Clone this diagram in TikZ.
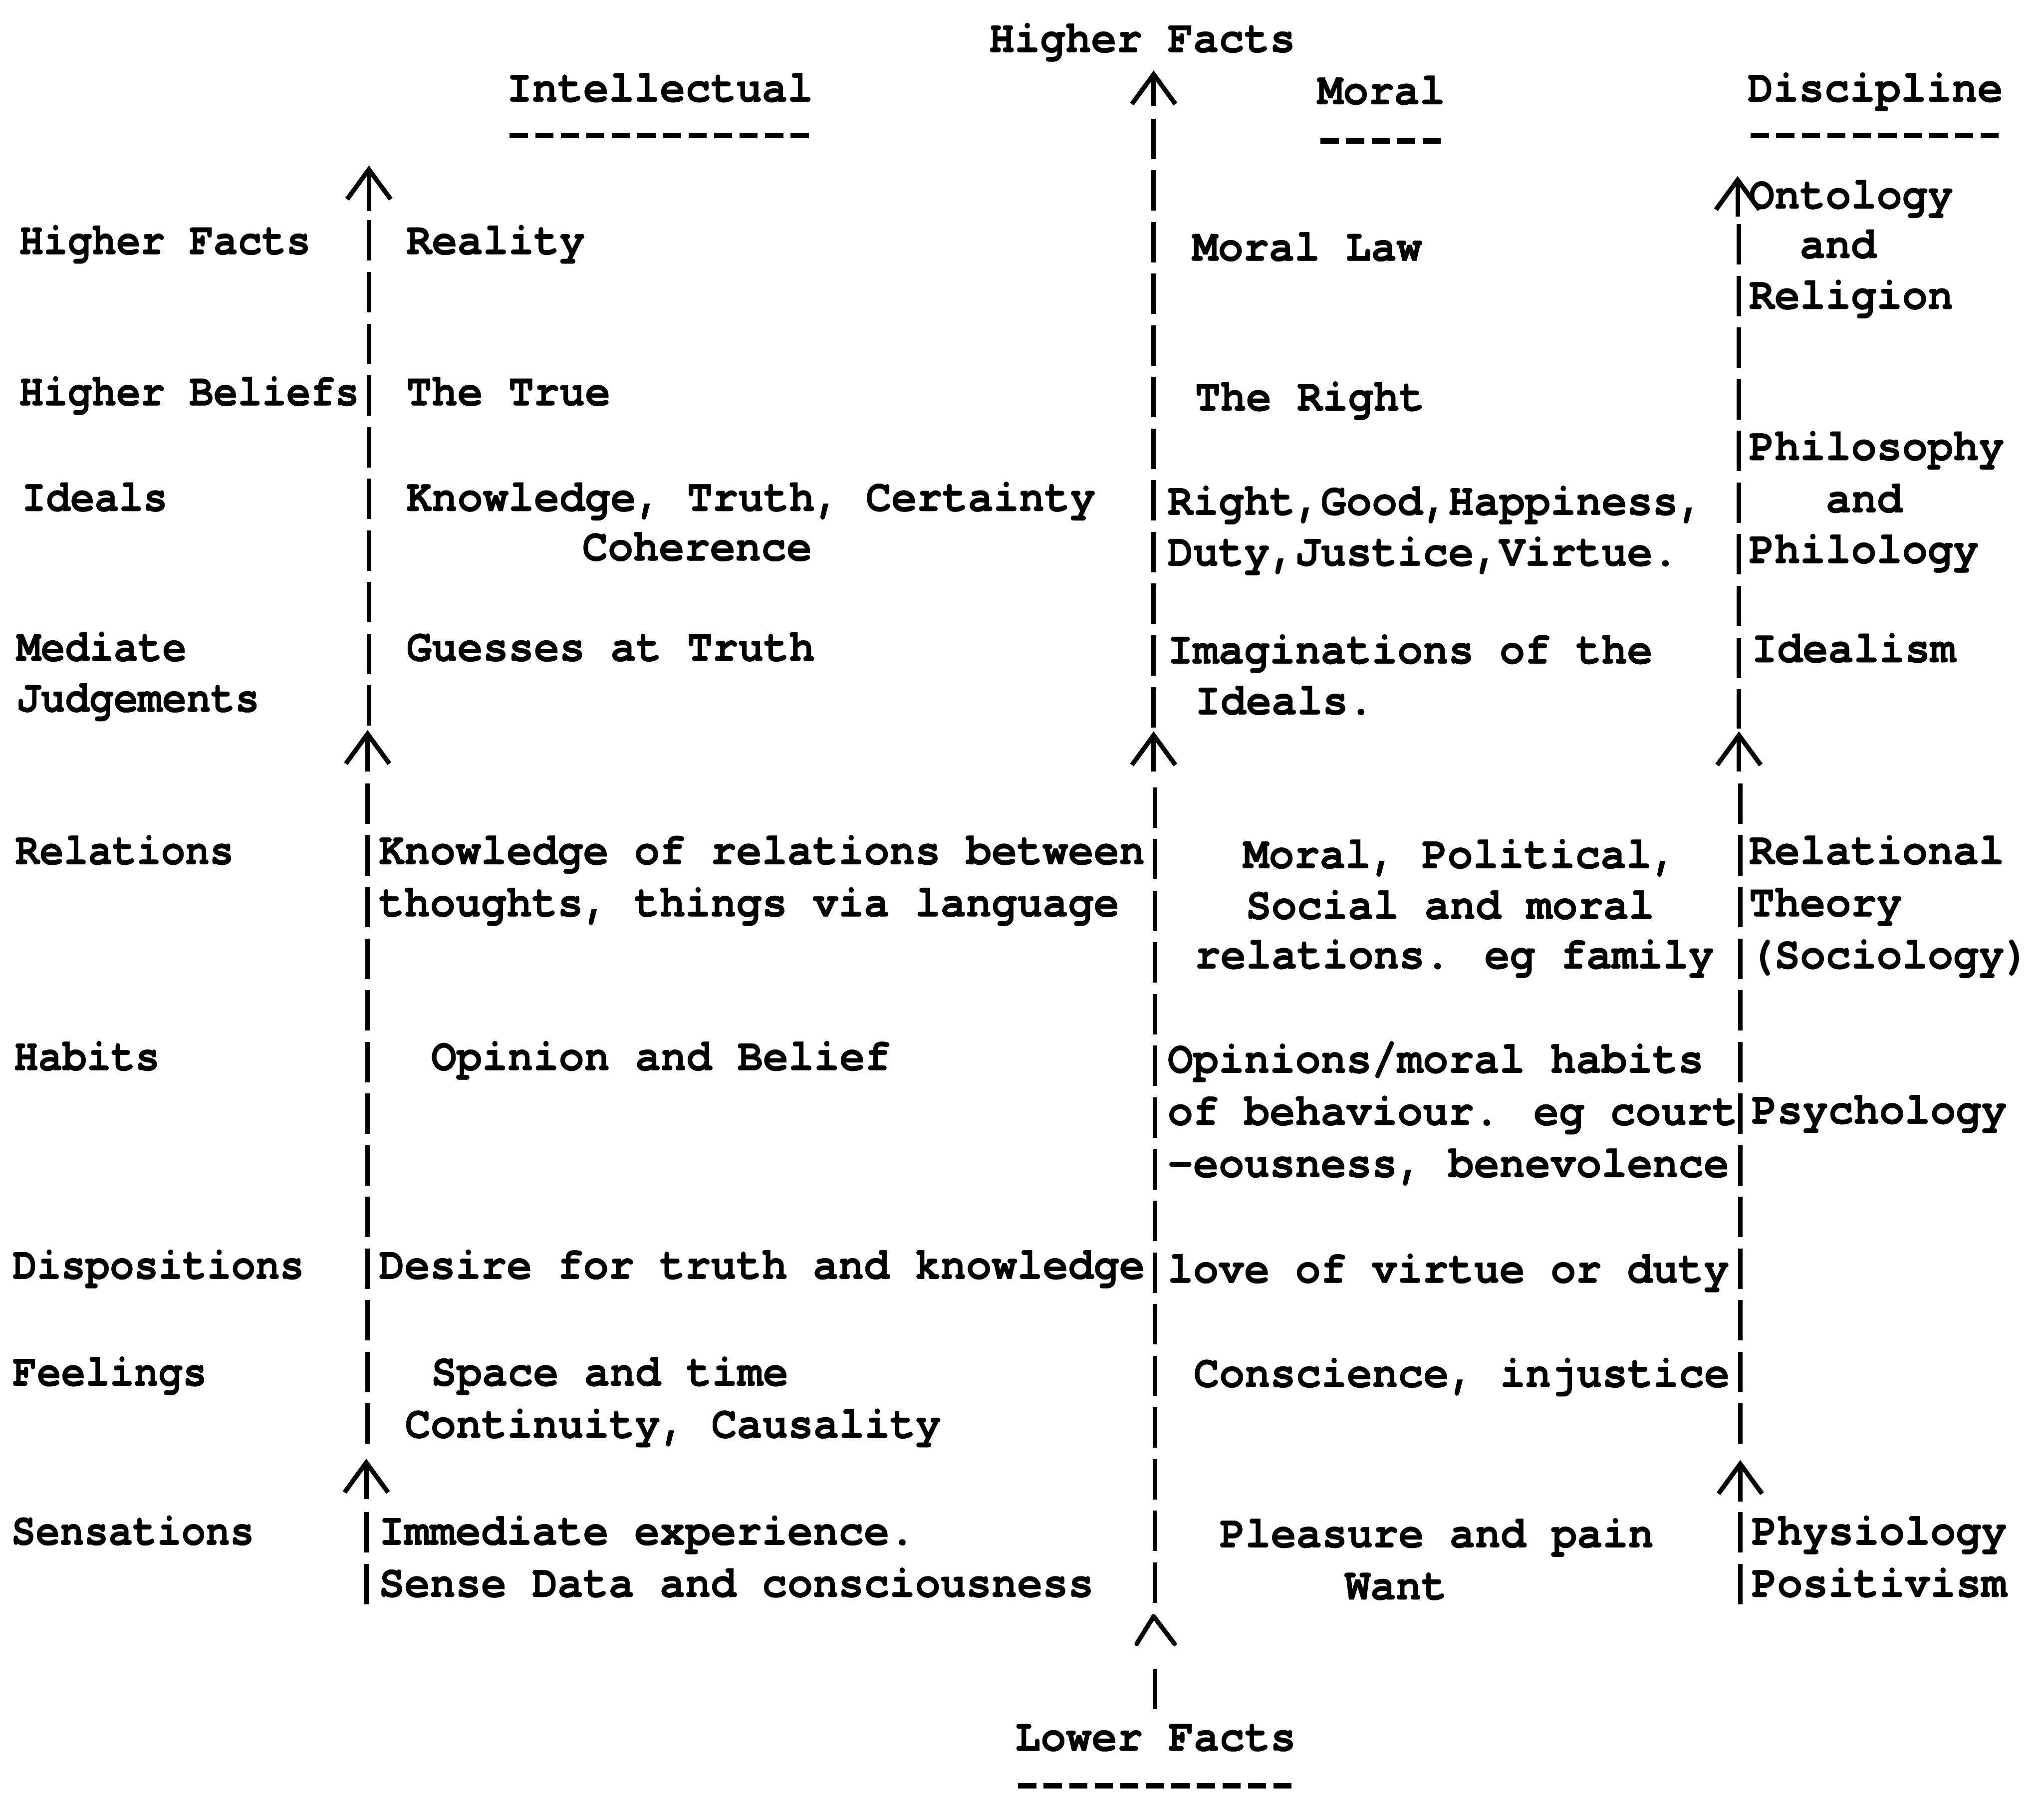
\documentclass[tikz,border=0pt]{standalone}
\usepackage{fontspec}
\newfontfamily\typer{texgyrecursor}[Extension=.otf, UprightFont=*-bold, FakeStretch=0.93, FakeBold=0.6]
\newfontfamily\typernarrow{texgyrecursor}[Extension=.otf, UprightFont=*-bold, FakeStretch=0.885, FakeBold=0.6]
\usetikzlibrary{arrows.meta, calc}

\begin{document}
\begin{tikzpicture}[x=0.01cm, y=-0.01cm,
  txt/.style={font=\typer\fontsize{9.98}{11}\selectfont, anchor=base west, inner sep=0pt},
  lbl/.style={txt, font=\typernarrow\fontsize{9.98}{11}\selectfont},
  rulebar/.style={line width=1pt, dash pattern=on 8.82pt off 2.45pt},
  uparrow/.style={line width=1pt, -{Straight Barb[length=6.5pt, width=9.5pt]}},
  uline/.style={line width=1.2pt, dash pattern=on 3.98pt off 1.59pt}]
  \useasboundingbox (0,0) rectangle (1568,1376);
  % Headings
  \node[txt] (topfacts) at (758,40) {Higher Facts};
  \node[txt] (intel) at (388,78) {Intellectual};
  \node[txt] (moral) at (1010,80) {Moral};
  \node[txt] (disc) at (1340,78) {Discipline};
  \node[txt] (lowfacts) at (778,1343) {Lower Facts};
  \draw[uline] ($(intel.base west)+(3,26)$) -- ($(intel.base east)+(0,26)$);
  \draw[uline] ($(moral.base west)+(3,28)$) -- ($(moral.base east)+(0,28)$);
  \draw[uline] ($(disc.base west)+(3,26)$) -- ($(disc.base east)+(0,26)$);
  \draw[uline] ($(lowfacts.base west)+(3,27)$) -- ($(lowfacts.base east)+(0,27)$);
  % Levels
  \node[lbl] (hfacts) at (14,195) {Higher Facts};
  \node[lbl] (hbeliefs) at (14,311) {Higher Beliefs};
  \node[lbl] (ideals) at (16,392) {Ideals};
  \node[lbl] (mediate) at (12,507) {Mediate};
  \node[lbl] (judge) at (12,546) {Judgements};
  \node[lbl] (relat) at (11,663) {Relations};
  \node[lbl] (habits) at (10,821) {Habits};
  \node[lbl] (dispos) at (9,981) {Dispositions};
  \node[lbl] (feel) at (9,1063) {Feelings};
  \node[lbl] (sense) at (8,1185) {Sensations};
  % Intellectual column
  \node[txt] (reality) at (311,195) {Reality};
  \node[txt] (truetxt) at (311,311) {The True};
  \node[txt] (know) at (311,392) {Knowledge, Truth, Certainty};
  \node[txt] (coher) at (446,430) {Coherence};
  \node[txt] (guess) at (311,507) {Guesses at Truth};
  \node[txt] (krel) at (290,663) {Knowledge of relations between};
  \node[txt] (thoughts) at (290,703) {thoughts, things via language};
  \node[txt] (opin) at (330,821) {Opinion and Belief};
  \node[txt] (desire) at (290,981) {Desire for truth and knowledge};
  \node[txt] (space) at (330,1063) {Space and time};
  \node[txt] (contin) at (310,1103) {Continuity, Causality};
  \node[txt] (immed) at (290,1185) {Immediate experience.};
  \node[txt] (sdata) at (290,1225) {Sense Data and consciousness};
  % Moral column
  \node[txt] (mlaw) at (914,200) {Moral Law};
  \node[txt] (right) at (916,315) {The Right};
  \node[txt] (rgood) at (895,395) {Right,Good,Happiness,};
  \node[txt] (duty) at (895,434) {Duty,Justice,Virtue.};
  \node[txt] (imag) at (895,509) {Imaginations of the};
  \node[txt] (idls) at (916,548) {Ideals.};
  \node[txt] (mpol) at (953,666) {Moral, Political,};
  \node[txt] (social) at (955,705) {Social and moral};
  \node[txt] (family) at (916,743) {relations. eg family};
  \node[txt] (mhab) at (895,823) {Opinions/moral habits};
  \node[txt] (behav) at (895,863) {of behaviour. eg court};
  \node[txt] (bene) at (895,903) {-eousness, benevolence};
  \node[txt] (love) at (895,984) {love of virtue or duty};
  \node[txt] (consc) at (915,1064) {Conscience, injustice};
  \node[txt] (pleas) at (935,1187) {Pleasure and pain};
  \node[txt] (want) at (1031,1227) {Want};
  % Discipline column
  \node[txt] (onto) at (1341,160) {Ontology};
  \node[txt] (and1) at (1380,198) {and};
  \node[txt] (relig) at (1341,237) {Religion};
  \node[txt] (philo) at (1341,353) {Philosophy};
  \node[txt] (and2) at (1400,393) {and};
  \node[txt] (philol) at (1341,432) {Philology};
  \node[txt] (ideal) at (1343,508) {Idealism};
  \node[txt] (rtheo) at (1341,663) {Relational};
  \node[txt] (theory) at (1341,703) {Theory};
  \node[txt] (socio) at (1341,743) {(Sociology)};
  \node[txt] (psych) at (1343,862) {Psychology};
  \node[txt] (physio) at (1343,1185) {Physiology};
  \node[txt] (posit) at (1343,1225) {Positivism};
  % Column lines
  \coordinate (a0) at (283,162); \coordinate (a1) at (283,127);
  \coordinate (a2) at (283,169); \coordinate (a3) at (283,557);
  \coordinate (a4) at (282,592); \coordinate (a5) at (282,560);
  \coordinate (a6) at (282,601); \coordinate (a7) at (282,1108);
  \coordinate (a8) at (281,1150); \coordinate (a9) at (281,1119);
  \coordinate (a10) at (281,1160); \coordinate (a11) at (281,1231);
  \coordinate (b0) at (885,81); \coordinate (b1) at (885,54);
  \coordinate (b2) at (885,91); \coordinate (b3) at (885,558);
  \coordinate (b4) at (885,592); \coordinate (b5) at (885,561);
  \coordinate (b6) at (886,604); \coordinate (b7) at (886,1232);
  \coordinate (b8) at (886,1280); \coordinate (b9) at (886,1311);
  \coordinate (c0) at (1333,166); \coordinate (c1) at (1333,135);
  \coordinate (c2) at (1334,172); \coordinate (c3) at (1334,559);
  \coordinate (c4) at (1334,592); \coordinate (c5) at (1334,561);
  \coordinate (c6) at (1335,601); \coordinate (c7) at (1335,1108);
  \coordinate (c8) at (1335,1152); \coordinate (c9) at (1335,1120);
  \coordinate (c10) at (1335,1160); \coordinate (c11) at (1335,1231);
  \draw[uparrow] (a0) -- (a1);
  \draw[rulebar] (a2) -- (a3);
  \draw[uparrow] (a4) -- (a5);
  \draw[rulebar] (a6) -- (a7);
  \draw[uparrow] (a8) -- (a9);
  \draw[rulebar] (a10) -- (a11);
  \draw[uparrow] (b0) -- (b1);
  \draw[rulebar] (b2) -- (b3);
  \draw[uparrow] (b4) -- (b5);
  \draw[rulebar] (b6) -- (b7);
  \draw[line width=1pt] (b8) -- (b9);
  \draw[line width=1pt, line cap=round, line join=round] (872,1261) -- (885,1240) -- (901,1261);
  \draw[uparrow] (c0) -- (c1);
  \draw[rulebar] (c2) -- (c3);
  \draw[uparrow] (c4) -- (c5);
  \draw[rulebar] (c6) -- (c7);
  \draw[uparrow] (c8) -- (c9);
  \draw[rulebar] (c10) -- (c11);
\end{tikzpicture}
\end{document}
